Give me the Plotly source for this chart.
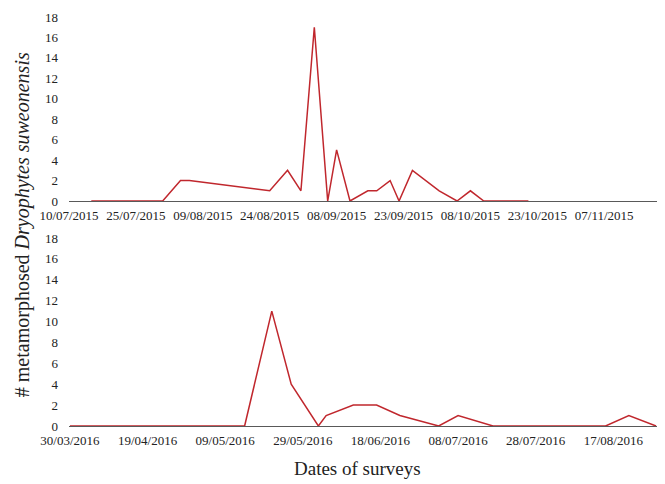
import plotly.graph_objects as go

# ---- data ----
dates_2015 = ["2015-07-15", "2015-07-31", "2015-08-04", "2015-08-06", "2015-08-24",
              "2015-08-28", "2015-08-31", "2015-09-03", "2015-09-06", "2015-09-08",
              "2015-09-11", "2015-09-15", "2015-09-17", "2015-09-20", "2015-09-22",
              "2015-09-25", "2015-10-01", "2015-10-05", "2015-10-08", "2015-10-11",
              "2015-10-21"]
values_2015 = [0, 0, 2, 2, 1,
               3, 1, 17, 0, 5,
               0, 1, 1, 2, 0,
               3, 1, 0, 1, 0,
               0]

dates_2016 = ["2016-03-30", "2016-05-14", "2016-05-21", "2016-05-26", "2016-06-02",
              "2016-06-04", "2016-06-11", "2016-06-17", "2016-06-23", "2016-07-03",
              "2016-07-08", "2016-07-17", "2016-08-15", "2016-08-21", "2016-08-28"]
values_2016 = [0, 0, 11, 4, 0,
               1, 2, 2, 1, 0,
               1, 0, 0, 1, 0]

ticks_2015 = ["2015-07-10", "2015-07-25", "2015-08-09", "2015-08-24", "2015-09-08",
              "2015-09-23", "2015-10-08", "2015-10-23", "2015-11-07"]
ticklabels_2015 = ["10/07/2015", "25/07/2015", "09/08/2015", "24/08/2015", "08/09/2015",
                   "23/09/2015", "08/10/2015", "23/10/2015", "07/11/2015"]
ticks_2016 = ["2016-03-30", "2016-04-19", "2016-05-09", "2016-05-29", "2016-06-18",
              "2016-07-08", "2016-07-28", "2016-08-17"]
ticklabels_2016 = ["30/03/2016", "19/04/2016", "09/05/2016", "29/05/2016", "18/06/2016",
                   "08/07/2016", "28/07/2016", "17/08/2016"]
y_ticks = [0, 2, 4, 6, 8, 10, 12, 14, 16, 18]

LINE = "#C0272D"
FONT = "Liberation Serif, Times New Roman, serif"
TXT = "#222222"
AX = "#595959"

fig = go.Figure()
fig.add_trace(go.Scatter(x=dates_2015, y=values_2015, mode="lines",
                         line=dict(color=LINE, width=1.5), xaxis="x", yaxis="y",
                         showlegend=False))
fig.add_trace(go.Scatter(x=dates_2016, y=values_2016, mode="lines",
                         line=dict(color=LINE, width=1.5), xaxis="x2", yaxis="y2",
                         showlegend=False))

xcommon = dict(showgrid=False, zeroline=False, showline=True, linecolor=AX, linewidth=1,
               ticks="", ticklabelstandoff=2,
               tickfont=dict(family=FONT, size=13, color=TXT), tickangle=0)
ycommon = dict(showgrid=False, zeroline=False, showline=False, ticks="",
               tickvals=y_ticks, range=[0, 18], ticklabelstandoff=10,
               tickfont=dict(family=FONT, size=13, color=TXT))

fig.update_layout(
    width=665, height=484,
    font=dict(family=FONT, size=13, color=TXT),
    margin=dict(l=69, r=8, t=17, b=58),
    plot_bgcolor="white", paper_bgcolor="white",
    xaxis=dict(xcommon, domain=[0, 1], anchor="y",
               range=["2015-07-10", "2015-11-18T20:00"],
               tickvals=ticks_2015, ticktext=ticklabels_2015),
    yaxis=dict(ycommon, domain=[0.5501, 1], anchor="x"),
    xaxis2=dict(xcommon, domain=[0, 1], anchor="y2",
                range=["2016-03-29T18:00", "2016-08-28T06:00"],
                tickvals=ticks_2016, ticktext=ticklabels_2016),
    yaxis2=dict(ycommon, domain=[0, 0.4597], anchor="x2"),
    annotations=[
        dict(text="# metamorphosed <i>Dryophytes suweonensis</i>", textangle=-90,
             xref="paper", yref="paper", x=-0.0799, y=0.491,
             xanchor="center", yanchor="middle", showarrow=False,
             font=dict(family=FONT, size=20, color=TXT)),
        dict(text="Dates of surveys",
             xref="paper", yref="paper", x=0.4898, y=-0.1027,
             xanchor="center", yanchor="middle", showarrow=False,
             font=dict(family=FONT, size=19, color=TXT)),
    ],
)

fig.write_html("out.html", config={"displayModeBar": False},
               post_script="document.body.style.margin='0';")
